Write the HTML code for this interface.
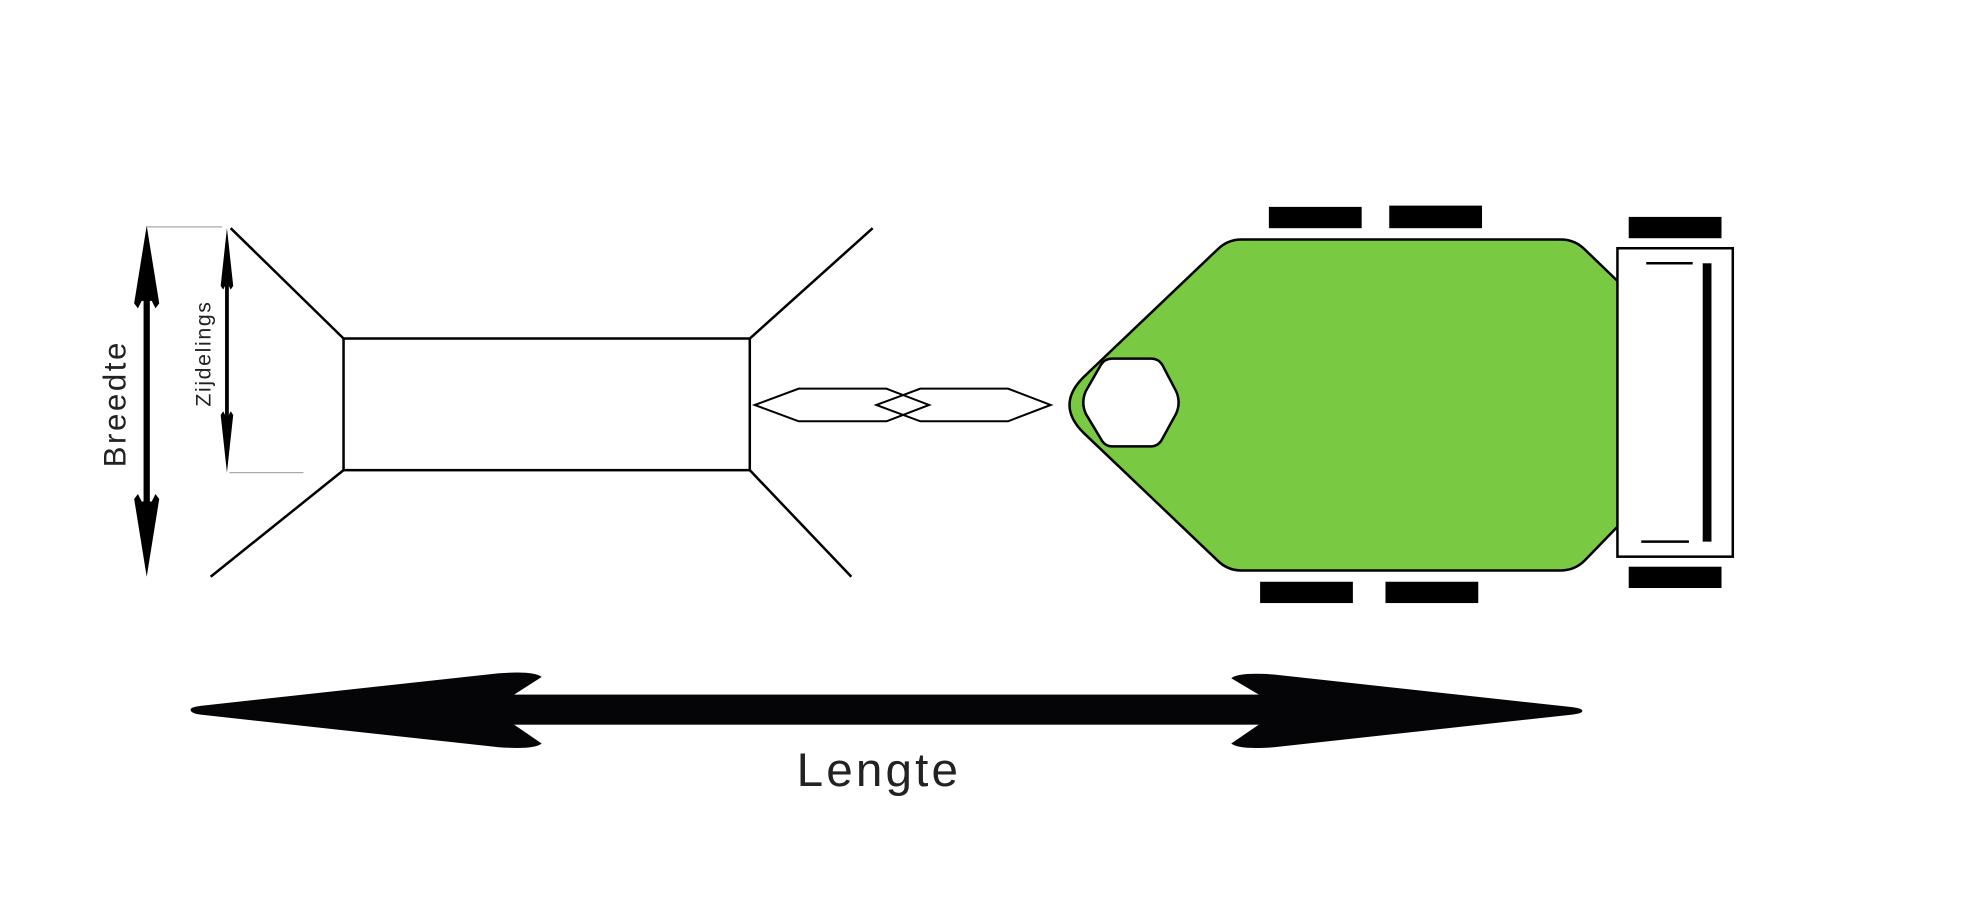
<!DOCTYPE html>
<html><head><meta charset="utf-8"><style>
html,body{margin:0;padding:0;background:#fff;}
svg{display:block;}
</style></head><body>
<svg width="1966" height="916" viewBox="0 0 1568 730.6" preserveAspectRatio="none" xmlns="http://www.w3.org/2000/svg">
<rect x="0" y="0" width="1568" height="731" fill="#fff"/>
<line x1="117" y1="181" x2="177" y2="181" stroke="#aaa" stroke-width="1"/>
<line x1="183" y1="377" x2="242" y2="377" stroke="#aaa" stroke-width="1"/>
<rect x="114.5" y="230" width="5" height="180" fill="#000"/>
<polygon points="117,180 127,242 124,246 121,240 113,240 110,246 107,242" fill="#000"/>
<polygon points="117,460 127,398 124,394 121,400 113,400 110,394 107,398" fill="#000"/>
<text transform="translate(100,322) rotate(-90)" text-anchor="middle" font-family="Liberation Sans, sans-serif" font-size="25" letter-spacing="2" fill="#222">Breedte</text>
<rect x="179.5" y="220" width="3" height="140" fill="#000"/>
<polygon points="181,182 186,228 184,231 182,227 180,227 178,231 176,228" fill="#000"/>
<polygon points="181,377 186,331 184,328 182,332 180,332 178,328 176,331" fill="#000"/>
<text transform="translate(168,282) rotate(-90)" text-anchor="middle" font-family="Liberation Sans, sans-serif" font-size="17" letter-spacing="1.3" fill="#222">Zijdelings</text>
<g stroke="#000" stroke-width="2" fill="none">
<line x1="184" y1="182" x2="274" y2="270"/>
<line x1="274" y1="375" x2="168" y2="460"/>
<line x1="598" y1="270" x2="696" y2="182"/>
<line x1="598" y1="375" x2="679" y2="460"/>
<rect x="274" y="270" width="324" height="105" fill="#fff"/>
<polygon points="602,323 637,310 707,310 741,323 707,336 637,336" stroke-width="1.6"/>
<polygon points="699,323 734,310 804,310 838,323 804,336 734,336" stroke-width="1.6"/>
</g>
<path d="M990,191 L1245,191 Q1256,191 1264,199 L1292,226 L1292,418 L1264,447 Q1256,455 1245,455 L990,455 Q979,455 971,447 L864,345 Q853,334 853,323 Q853,312 864,301 L971,199 Q979,191 990,191 Z" fill="#7ac943" stroke="#000" stroke-width="2"/>
<path d="M887,286 L918,286 Q924,286 927,291 L938,312 Q942,321 938,330 L927,350 Q924,356 918,356 L887,356 Q881,356 878,350 L866,330 Q862,321 866,312 L878,291 Q881,286 887,286 Z" fill="#fff" stroke="#000" stroke-width="2"/>
<rect x="1290" y="198" width="92" height="246" fill="#fff" stroke="#000" stroke-width="2"/>
<line x1="1313" y1="210" x2="1350" y2="210" stroke="#000" stroke-width="2"/>
<line x1="1309" y1="432" x2="1347" y2="432" stroke="#000" stroke-width="2"/>
<rect x="1358" y="210" width="7" height="222" fill="#000"/>
<g fill="#000">
<rect x="1012" y="165" width="74" height="17"/>
<rect x="1108" y="164" width="74" height="18"/>
<rect x="1299" y="173" width="74" height="17"/>
<rect x="1299" y="452" width="74" height="17"/>
<rect x="1005" y="464" width="74" height="17"/>
<rect x="1105" y="464" width="74" height="17"/>
</g>
<rect x="405" y="554" width="610" height="24" fill="#050507"/>
<path d="M152,566 Q152,564 160,563 L398,537 Q426,535 432,540 L410,554 L410,578 L432,593 Q426,598 398,596 L160,570 Q152,569 152,566 Z" fill="#050507"/>
<path d="M1262,567 Q1262,565 1254,564 L1016,538 Q988,536 982,541 L1004,554 L1004,578 L982,593 Q988,598 1016,596 L1254,570 Q1262,569 1262,567 Z" fill="#050507"/>
<text x="701" y="627" text-anchor="middle" font-family="Liberation Sans, sans-serif" font-size="38" letter-spacing="2.5" fill="#222">Lengte</text>
</svg>
</body></html>
